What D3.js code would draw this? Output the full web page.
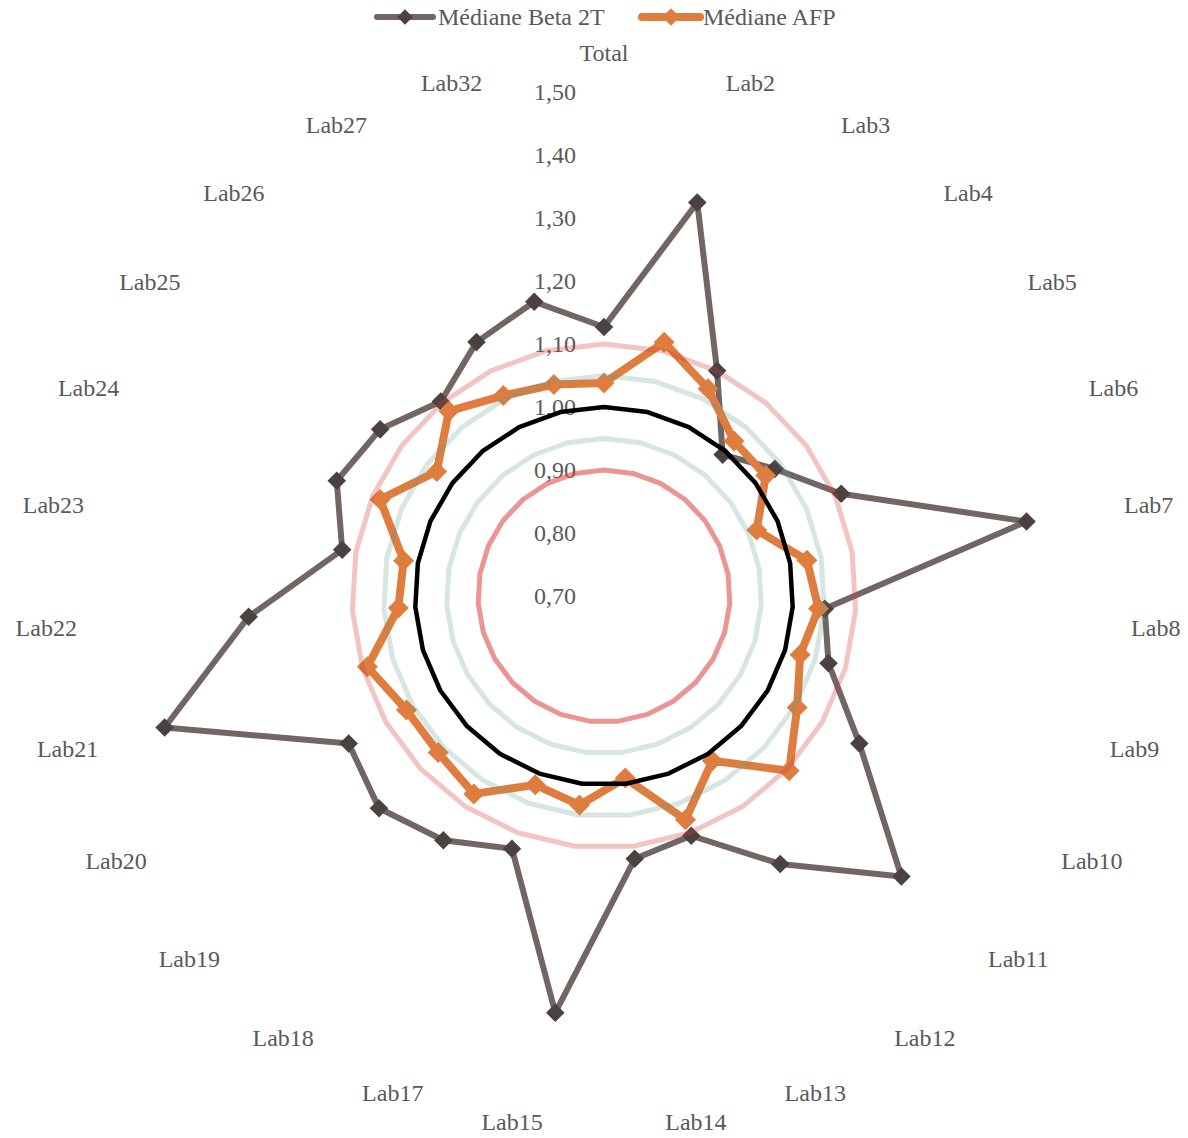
<!DOCTYPE html>
<html>
<head>
<meta charset="utf-8">
<script src="https://cdn.jsdelivr.net/npm/d3@7"></script>
<style>
  body { margin: 0; background: #ffffff; }
  svg text { font-family: "Liberation Serif", "Times New Roman", serif; font-size: 24px; fill: #595959; }
</style>
</head>
<body>
<svg id="chart" width="1188" height="1138"></svg>
<script>
// Spokes of the radar, clockwise from the top
const categories = ["Total", "Lab2", "Lab3", "Lab4", "Lab5", "Lab6", "Lab7", "Lab8", "Lab9",
  "Lab10", "Lab11", "Lab12", "Lab13", "Lab14", "Lab15", "Lab17", "Lab18", "Lab19", "Lab20",
  "Lab21", "Lab22", "Lab23", "Lab24", "Lab25", "Lab26", "Lab27", "Lab32"];

// Median MoM per lab
const medianBeta2T = [1.127, 1.342, 1.100, 0.993, 1.038, 1.110, 1.381, 1.051, 1.072, 1.168,
  1.349, 1.209, 1.105, 1.120, 1.366, 1.127, 1.164, 1.191, 1.168, 1.428, 1.265, 1.122, 1.162,
  1.143, 1.103, 1.151, 1.180];
const medianAFP = [1.038, 1.114, 1.068, 1.021, 1.020, 0.964, 1.027, 1.041, 1.025, 1.054,
  1.104, 1.013, 1.078, 0.991, 1.034, 1.019, 1.076, 1.062, 1.062, 1.092, 1.027, 1.023, 1.087,
  1.031, 1.083, 1.056, 1.045];

// Constant reference rings (target 1.00 and tolerance bands)
const refLevels = [0.95, 1.05, 0.90, 1.10, 1.00];

// Radial axis tick values
const tickValues = [0.70, 0.80, 0.90, 1.00, 1.10, 1.20, 1.30, 1.40, 1.50];

const seriesNames = ["Médiane Beta 2T", "Médiane AFP"];

const svg = d3.select("#chart");
const cx = 604, cy = 596;
const r = d3.scaleLinear().domain([0.70, 1.50]).range([0, 504]);
const angle = d3.scaleLinear().domain([0, categories.length]).range([0, 2 * Math.PI]);
const fmt = d3.formatLocale({ decimal: ",", thousands: " ", grouping: [3], currency: ["", "€"] }).format(".2f");

const g = svg.append("g").attr("transform", `translate(${cx},${cy})`);

const radial = d3.lineRadial()
  .angle((d, i) => angle(i))
  .radius(d => r(d))
  .curve(d3.curveLinearClosed);

const pt = (v, i) => [r(v) * Math.sin(angle(i)), -r(v) * Math.cos(angle(i))];

// ring styles by level
const ringStyle = {
  0.90: { stroke: "#d83c3c", opacity: 0.55, width: 5 },
  0.95: { stroke: "#5e9c8a", opacity: 0.25, width: 5 },
  1.00: { stroke: "#000000", opacity: 1, width: 4.5 },
  1.05: { stroke: "#5e9c8a", opacity: 0.25, width: 5 },
  1.10: { stroke: "#d83c3c", opacity: 0.3, width: 5 }
};

// Radial axis labels (underneath the plotted lines)
g.selectAll("text.tick").data(tickValues).join("text")
  .attr("class", "tick")
  .attr("x", -28)
  .attr("y", d => -r(d))
  .attr("dy", "0.34em")
  .attr("text-anchor", "end")
  .text(d => fmt(d));

// Médiane Beta 2T
g.append("path")
  .attr("d", radial(medianBeta2T))
  .attr("fill", "none")
  .attr("stroke", "#716664")
  .attr("stroke-width", 6)
  .attr("stroke-linejoin", "round");
g.selectAll("path.mBeta").data(medianBeta2T).join("path")
  .attr("class", "mBeta")
  .attr("d", d3.symbol(d3.symbolDiamond2, 220)())
  .attr("transform", (d, i) => `translate(${pt(d, i)})`)
  .attr("fill", "#4a4241");

// Médiane AFP
g.append("path")
  .attr("d", radial(medianAFP))
  .attr("fill", "none")
  .attr("stroke", "#df7d3f")
  .attr("stroke-width", 8)
  .attr("stroke-linejoin", "round");
g.selectAll("path.mAfp").data(medianAFP).join("path")
  .attr("class", "mAfp")
  .attr("d", d3.symbol(d3.symbolDiamond2, 280)())
  .attr("transform", (d, i) => `translate(${pt(d, i)})`)
  .attr("fill", "#df7d3f");

// Reference rings drawn over the series
refLevels.forEach(level => {
  const s = ringStyle[level];
  g.append("path")
    .attr("d", radial(categories.map(() => level)))
    .attr("fill", "none")
    .attr("stroke", s.stroke)
    .attr("stroke-opacity", s.opacity)
    .attr("stroke-width", s.width)
    .attr("stroke-linejoin", "round");
});

// Category labels around the rim
const R = 528;
g.selectAll("text.cat").data(categories).join("text")
  .attr("class", "cat")
  .each(function (d, i) {
    const a = angle(i);
    const x = R * Math.sin(a), y = -R * Math.cos(a);
    const t = d3.select(this).attr("x", x).attr("y", y).text(d);
    if (i === 0) {
      t.attr("text-anchor", "middle").attr("dy", "-0.28em");
    } else {
      t.attr("text-anchor", a < Math.PI ? "start" : "end").attr("dy", "0.38em");
    }
  });

// Legend
const legend = svg.append("g").attr("class", "legend");
const legendItems = [
  { name: seriesNames[0], x0: 377, x1: 433, stroke: "#716664", mark: "#4a4241", w: 6, size: 150, tx: 438 },
  { name: seriesNames[1], x0: 642, x1: 700, stroke: "#df7d3f", mark: "#df7d3f", w: 8, size: 200, tx: 703 }
];
legendItems.forEach(it => {
  legend.append("line")
    .attr("x1", it.x0).attr("x2", it.x1).attr("y1", 17).attr("y2", 17)
    .attr("stroke", it.stroke).attr("stroke-width", it.w).attr("stroke-linecap", "round");
  legend.append("path")
    .attr("d", d3.symbol(d3.symbolDiamond2, it.size)())
    .attr("transform", `translate(${(it.x0 + it.x1) / 2},17)`)
    .attr("fill", it.mark);
  legend.append("text")
    .attr("x", it.tx).attr("y", 25)
    .text(it.name);
});
</script>
</body>
</html>
